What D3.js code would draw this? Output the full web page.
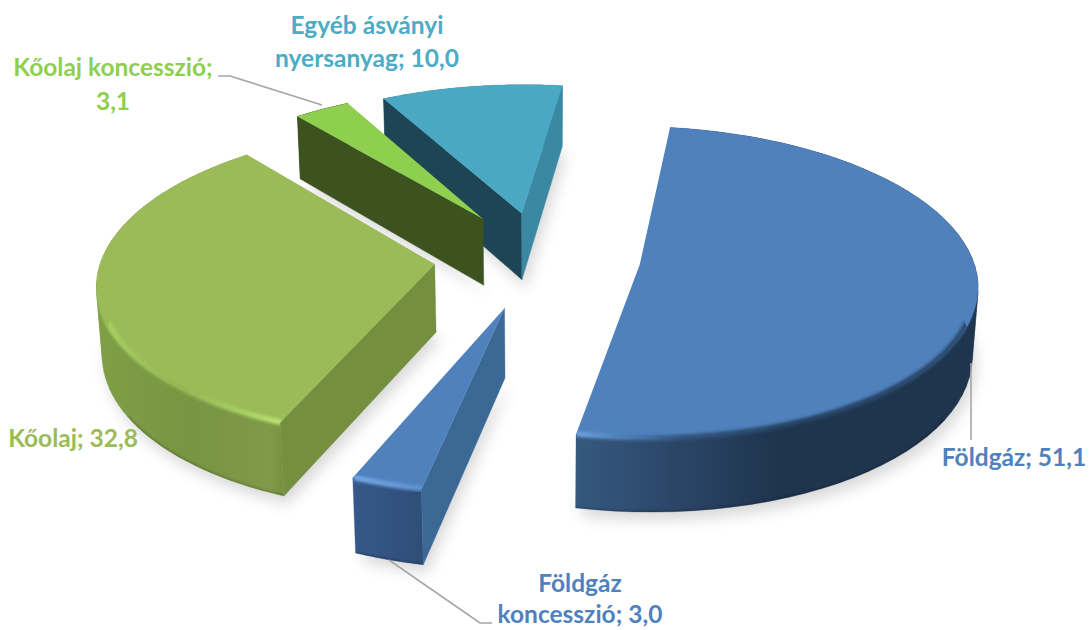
<!DOCTYPE html>
<html><head><meta charset="utf-8">
<script src="https://cdn.jsdelivr.net/npm/d3@7/dist/d3.min.js"></script>
<style>html,body{margin:0;background:#fff}svg{display:block}text{font-family:Lato,"Open Sans",sans-serif;font-weight:700;font-size:24.5px}</style>
</head><body><svg id="c" width="1091" height="630"></svg>
<script>
const categories = ["Földgáz","Földgáz koncesszió","Kőolaj","Kőolaj koncesszió","Egyéb ásványi nyersanyag"];
const values = [51.1,3.0,32.8,3.1,10.0];
const explode = [0.305,0.34,0.315,0.31,0.30];
const drawOrder = [4,3,0,2,1];
const topColors = ["#4f81bd","#4f81bd","#9bbb59","#8fcf4f","#4aa8c4"];
const startWallColors = ["#2a4a6e","#3c6896","#74903f","#3c5320","#1e4554"];
const endWallColors = ["#2a4a6e","#3c6896","#74903f","#3c5320","#3b88a3"];
const rimStops = [
 [[575,"#35597f"],[680,"#2a4566"],[780,"#1f344d"],[980,"#1f344d"]],
 [[350,"#36598a"],[420,"#2f4f78"]],
 [[95,"#7f9f45"],[190,"#789543"],[270,"#7f9a4a"],[285,"#74903f"]],
 [[290,"#3c5320"],[480,"#3c5320"]],
 [[380,"#3b88a3"],[560,"#3b88a3"]]];
const bandStops = [
 [[575,"#6ea3e2"],[620,"#4f80ba"],[680,"#31557e"],[800,"#25405f"],[980,"#2b4a70"]],
 [[350,"#74a9e6"],[420,"#5f92d0"]],
 [[95,"#abd464"],[180,"#93b552"],[240,"#a8cf60"],[285,"#bfe676"]],
 null,null];
const labels = [
 {lines:["Földgáz; 51,1"],x:1014,y:[466],c:"#4f81bd"},
 {lines:["Földgáz","koncesszió; 3,0"],x:580,y:[592,623],c:"#4f81bd"},
 {lines:["Kőolaj; 32,8"],x:73,y:[447],c:"#9bbb59"},
 {lines:["Kőolaj koncesszió;","3,1"],x:113,y:[76,110],c:"#8fcf4f"},
 {lines:["Egyéb ásványi","nyersanyag; 10,0"],x:367,y:[34,67],c:"#4bacc6"}];
const leaders = [
 [[971,363],[971,440]],
 [[389,560],[480,623],[492,623]],
 [],
 [[218,76],[230,76],[322,105]],
 []];

const cx=539, cy=257, S=333, tilt=27.2*Math.PI/180, persp=0.111, H=0.232, startDeg=7.7;
const sinT=Math.sin(tilt), cosT=Math.cos(tilt);
const svg=d3.select("#c"), defs=svg.append("defs");
const project=(X,Y,Z)=>{const k=1/(1-persp*Y-persp*Z*sinT/cosT);return [cx+S*X*k, cy+S*(Y*sinT-Z*cosT)*k];};
const pie=d3.pie().sort(null).startAngle(startDeg*Math.PI/180).endAngle((startDeg+360)*Math.PI/180);
const arcs=pie(values);
const line=d3.line();
const blur=(id,sd)=>defs.append("filter").attr("id",id).attr("x","-20%").attr("y","-20%").attr("width","140%").attr("height","140%")
  .append("feGaussianBlur").attr("stdDeviation",sd);
blur("sh",7); blur("b2",1.6); blur("b1",0.8);
const grad=(id,stops)=>{const xs=stops.map(s=>s[0]),x0=xs[0],x1=xs[xs.length-1];
  const g=defs.append("linearGradient").attr("id",id).attr("gradientUnits","userSpaceOnUse").attr("x1",x0).attr("x2",x1).attr("y1",0).attr("y2",0);
  stops.forEach(s=>g.append("stop").attr("offset",(s[0]-x0)/(x1-x0)).attr("stop-color",s[1]));};

const geo=arcs.map((a,i)=>{
  const mid=(a.startAngle+a.endAngle)/2, e=explode[i];
  const ox=e*Math.sin(mid), oy=-e*Math.cos(mid);
  const P=(r,ang,z)=>project(ox+r*Math.sin(ang),oy-r*Math.cos(ang),z);
  const angs=d3.range(0,61).map(t=>a.startAngle+(a.endAngle-a.startAngle)*t/60);
  return {a,P,angs,ox,oy};
});

// floor shadows
const shadows=svg.append("g").attr("filter","url(#sh)").attr("opacity",0.22);
geo.forEach(g=>{
  const pts=[g.P(0,0,-H),...g.angs.map(t=>g.P(1,t,-H))].map(p=>[p[0]+4,p[1]+8]);
  shadows.append("path").attr("d",line(pts)+"Z").attr("fill","#555");
});

drawOrder.forEach(i=>{
  const g=geo[i], G=svg.append("g").attr("class","slice").attr("data-name",categories[i]);
  grad("rim"+i,rimStops[i]);
  const topArc=g.angs.map(t=>g.P(1,t,0)), botArc=g.angs.map(t=>g.P(1,t,-H));
  // the rim is a strip of small quads, all wound the same way, so its silhouette stays whole
  const rimD=d3.range(g.angs.length-1).map(j=>{
    const q=[topArc[j],topArc[j+1],botArc[j+1],botArc[j]];
    return line(d3.polygonArea(q)<0?q.slice().reverse():q)+"Z";
  }).join("");
  const topD=line([g.P(0,0,0),...topArc])+"Z";
  G.append("path").attr("d",rimD).attr("fill",`url(#rim${i})`).attr("stroke",`url(#rim${i})`).attr("stroke-width",.3);
  // dark line along the front of the rim's base
  defs.append("clipPath").attr("id","rc"+i).append("path").attr("d",rimD);
  const frontBase=g.angs.filter(t=>-Math.cos(t)>0.5).map(t=>g.P(1,t,-H));
  if(frontBase.length>1) G.append("path").attr("d",line(frontBase)).attr("fill","none").attr("stroke","#000").attr("stroke-opacity",.2)
    .attr("stroke-width",3).attr("filter","url(#b1)").attr("clip-path",`url(#rc${i})`);
  // cut walls, drawn only when they face the viewer
  [[g.a.startAngle,startWallColors[i],1],[g.a.endAngle,endWallColors[i],-1]].forEach(([ang,col,sgn])=>{
    const poly=[g.P(0,0,0),g.P(1,ang,0),g.P(1,ang,-H),g.P(0,0,-H)];
    if(d3.polygonArea(poly)*sgn>0) G.append("path").attr("d",line(poly)+"Z").attr("fill",col).attr("stroke",col).attr("stroke-width",.4);
  });
  G.append("path").attr("d",topD).attr("fill",topColors[i]);
  if(bandStops[i]){
    grad("band"+i,bandStops[i]);
    defs.append("clipPath").attr("id","bc"+i).append("path").attr("d",topD+rimD);
    // the bevel only shows along the edge that faces the viewer
    const bandArc=g.angs.filter(t=>-Math.cos(t)>0.06).map(t=>g.P(0.992,t,-0.004));
    G.append("g").attr("clip-path",`url(#bc${i})`).append("path").attr("d",line(bandArc)).attr("fill","none")
      .attr("stroke",`url(#band${i})`).attr("stroke-width",5.5).attr("filter","url(#b2)");
  }
});

// leader lines
leaders.forEach(l=>{ if(l.length) svg.append("path").attr("d",line(l)).attr("fill","none").attr("stroke","#a6a6a6").attr("stroke-width",1.6); });
// labels
labels.forEach(l=>{
  l.lines.forEach((t,j)=>svg.append("text").attr("x",l.x).attr("y",l.y[j]).attr("text-anchor","middle").attr("fill",l.c).text(t));
});
</script></body></html>
